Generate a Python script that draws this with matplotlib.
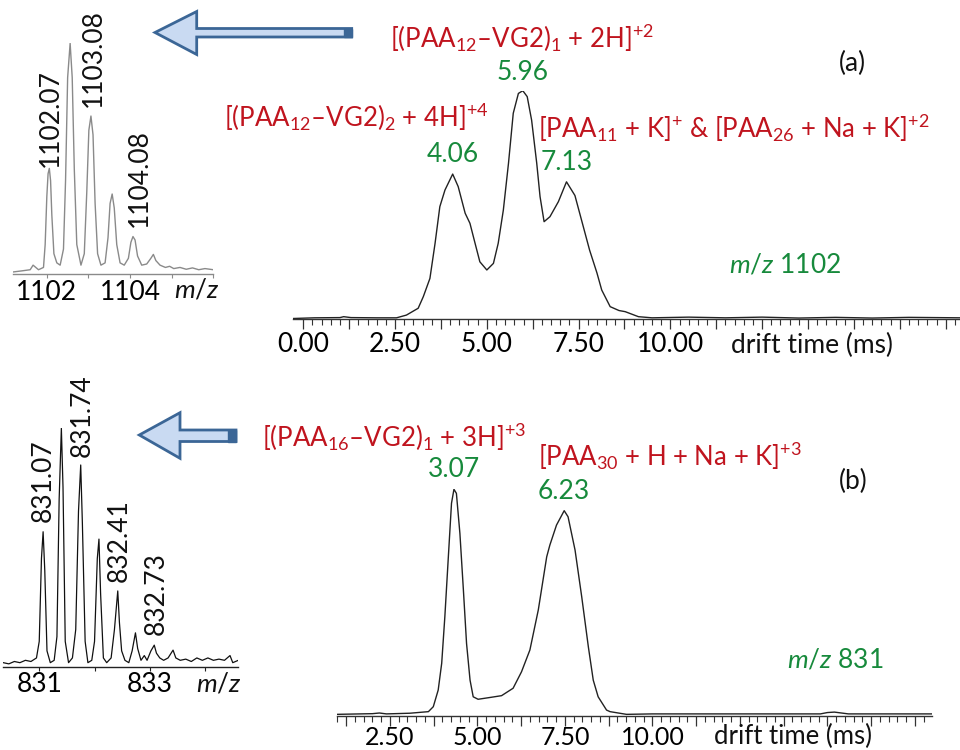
import matplotlib
matplotlib.use("Agg")
import matplotlib.pyplot as plt
from matplotlib.patches import Polygon, Rectangle
from matplotlib.ticker import FixedLocator, FuncFormatter
import numpy as np

plt.rcParams['font.family'] = ['Lato', 'DejaVu Sans']
plt.rcParams['mathtext.fontset'] = 'custom'
plt.rcParams['mathtext.rm'] = 'Lato'
plt.rcParams['mathtext.it'] = 'Lato:italic'
plt.rcParams['mathtext.default'] = 'regular'

RED = '#c0141e'
GREEN = '#178a3c'
FS = 19

# ---- data ----

# (a) arrival time distribution, m/z 1102
drift_a_ms = [-0.28, 0.3, 1.0, 1.1, 1.3, 2.0, 2.54, 2.81, 3.13, 3.27, 3.45, 3.59, 3.72, 3.86,
              4.07, 4.22, 4.41, 4.54, 4.68, 4.81, 5.00, 5.18, 5.31, 5.45, 5.59, 5.72, 5.86,
              5.98, 6.10, 6.22, 6.36, 6.45, 6.56, 6.72, 6.95, 7.17, 7.40, 7.60, 7.80, 8.00,
              8.13, 8.36, 8.60, 8.77, 9.13, 9.5, 10.5, 11.5, 12.5, 13.5, 14.5, 15.5, 16.5, 17.9]
drift_a_int = [0.0, 0.003, 0.004, 0.008, 0.004, 0.003, 0.003, 0.015, 0.045, 0.096, 0.176,
               0.330, 0.491, 0.564, 0.634, 0.579, 0.462, 0.418, 0.330, 0.249, 0.213, 0.242,
               0.330, 0.476, 0.681, 0.901, 0.988, 1.0, 0.974, 0.871, 0.681, 0.535, 0.425,
               0.447, 0.513, 0.600, 0.540, 0.420, 0.300, 0.200, 0.125, 0.052, 0.035, 0.030,
               0.008, 0.003, 0.006, 0.003, 0.006, 0.002, 0.005, 0.002, 0.005, 0.003]

# (b) arrival time distribution, m/z 831
drift_b_ms = [0.98, 2.0, 2.2, 2.4, 3.07, 3.60, 3.74, 3.88, 3.98, 4.07, 4.17, 4.26, 4.33, 4.40,
              4.50, 4.60, 4.69, 4.79, 4.88, 5.02, 5.36, 5.69, 6.02, 6.26, 6.50, 6.74, 6.98,
              7.07, 7.26, 7.48, 7.59, 7.79, 7.98, 8.17, 8.31, 8.45, 8.69, 8.79, 9.26, 10.0,
              12.0, 14.8, 15.0, 15.2, 15.4, 15.6, 18.0]
drift_b_int = [0.0, 0.003, 0.006, 0.002, 0.005, 0.012, 0.034, 0.108, 0.227, 0.434, 0.700,
               0.938, 1.0, 0.982, 0.804, 0.552, 0.315, 0.152, 0.078, 0.067, 0.075, 0.083,
               0.116, 0.189, 0.286, 0.464, 0.700, 0.752, 0.841, 0.905, 0.878, 0.730, 0.523,
               0.300, 0.152, 0.078, 0.019, 0.012, 0.0, 0.002, 0.002, 0.002, 0.008, 0.010,
               0.006, 0.002, 0.002]

# inset (a) mass spectrum
mz_a = [1101.18, 1101.40, 1101.60, 1101.67, 1101.80, 1101.92, 1101.96, 1102.00, 1102.03,
        1102.06, 1102.09, 1102.12, 1102.17, 1102.24, 1102.32, 1102.40, 1102.45, 1102.50,
        1102.56, 1102.61, 1102.66, 1102.72, 1102.82, 1102.90, 1102.96, 1103.01, 1103.06,
        1103.11, 1103.16, 1103.22, 1103.30, 1103.40, 1103.47, 1103.52, 1103.57, 1103.62,
        1103.68, 1103.76, 1103.86, 1103.96, 1104.02, 1104.07, 1104.12, 1104.18, 1104.28,
        1104.40, 1104.50, 1104.56, 1104.62, 1104.72, 1104.85, 1104.95, 1105.05, 1105.20,
        1105.35, 1105.50, 1105.65, 1105.80, 1106.0]
ms_int_a = [0.0, 0.005, 0.01, 0.03, 0.01, 0.02, 0.12, 0.33, 0.43, 0.453, 0.40, 0.25, 0.08,
            0.04, 0.03, 0.10, 0.40, 0.85, 1.0, 0.85, 0.45, 0.12, 0.03, 0.08, 0.35, 0.62,
            0.682, 0.60, 0.30, 0.08, 0.03, 0.04, 0.15, 0.30, 0.341, 0.28, 0.12, 0.04, 0.03,
            0.06, 0.13, 0.155, 0.14, 0.07, 0.03, 0.035, 0.06, 0.077, 0.05, 0.03, 0.02, 0.025,
            0.015, 0.02, 0.012, 0.018, 0.01, 0.015, 0.01]

# inset (b) mass spectrum
mz_b = [830.35, 830.45, 830.55, 830.65, 830.75, 830.85, 830.95, 831.00, 831.04, 831.07,
        831.10, 831.14, 831.20, 831.27, 831.32, 831.36, 831.40, 831.43, 831.47, 831.53,
        831.60, 831.66, 831.71, 831.75, 831.78, 831.83, 831.88, 831.95, 832.00, 832.05,
        832.08, 832.11, 832.16, 832.22, 832.30, 832.36, 832.42, 832.45, 832.49, 832.55,
        832.62, 832.68, 832.74, 832.78, 832.84, 832.90, 832.95, 833.02, 833.08, 833.12,
        833.18, 833.25, 833.33, 833.42, 833.47, 833.55, 833.65, 833.75, 833.85, 833.95,
        834.05, 834.15, 834.25, 834.35, 834.45, 834.50, 834.60]
ms_int_b = [0.01, 0.005, 0.015, 0.01, 0.02, 0.015, 0.03, 0.10, 0.45, 0.563, 0.40, 0.06, 0.01,
            0.02, 0.12, 0.70, 1.0, 0.75, 0.10, 0.01, 0.03, 0.15, 0.65, 0.845, 0.60, 0.10,
            0.01, 0.02, 0.10, 0.45, 0.532, 0.30, 0.03, 0.01, 0.03, 0.15, 0.313, 0.18, 0.06,
            0.02, 0.01, 0.06, 0.136, 0.07, 0.02, 0.04, 0.02, 0.06, 0.084, 0.05, 0.03, 0.02,
            0.03, 0.063, 0.03, 0.02, 0.025, 0.015, 0.03, 0.02, 0.03, 0.02, 0.025, 0.02, 0.04,
            0.01, 0.02]

# peak labels
peak_a_x = [4.07, 5.96, 7.17]
peak_a_y = [0.718, 1.082, 0.683]
peak_a_txt = ['4.06', '5.96', '7.13']
peak_b_x = [4.34, 7.48]
peak_b_y = [1.086, 0.99]
peak_b_txt = ['3.07', '6.23']

ins_a_x = [1102.08, 1103.12, 1104.22]
ins_a_y = [0.46, 0.723, 0.198]
ins_a_txt = ['1102.07', '1103.08', '1104.08']
ins_b_x = [831.07, 831.77, 832.44, 833.11]
ins_b_y = [0.605, 0.88, 0.352, 0.127]
ins_b_txt = ['831.07', '831.74', '832.41', '832.73']

drift_labels_a = [0, 2.5, 5, 7.5, 10]
drift_labels_b = [2.5, 5, 7.5, 10]
mz_labels_a = [1102, 1104]
mz_labels_b = [831, 833]

W, H = 960, 750
fig = plt.figure(figsize=(9.6, 7.5), dpi=100)


def fx(x):
    return x / W


def fy(y):
    return 1 - y / H


def axes_px(left, right, top, bottom):
    return fig.add_axes([fx(left), fy(bottom), (right - left) / W, (bottom - top) / H])


def strip(ax, col):
    for s in ['left', 'right', 'top']:
        ax.spines[s].set_visible(False)
    ax.spines['bottom'].set_color(col)
    ax.spines['bottom'].set_linewidth(1.0)
    ax.set_yticks([])
    ax.patch.set_alpha(0)


def drift_axis(ax, lo, hi, labels, fs, pad):
    strip(ax, '#333333')
    ax.xaxis.set_major_locator(FixedLocator(np.arange(0, 20, 1.25)))
    ax.xaxis.set_minor_locator(FixedLocator(np.arange(0, 20, 0.25)))
    ax.xaxis.set_major_formatter(FuncFormatter(
        lambda v, p: '%.2f' % v if any(abs(v - l) < 1e-6 for l in labels) else ''))
    ax.tick_params(axis='x', which='major', direction='out', length=7, width=0.9,
                   color='#333333', labelsize=fs, pad=pad)
    ax.tick_params(axis='x', which='minor', direction='out', length=4, width=0.8,
                   color='#333333')
    ax.set_xlim(lo, hi)


def mz_axis(ax, lo, hi, labels, col):
    strip(ax, col)
    ax.xaxis.set_major_locator(FixedLocator(np.arange(int(lo), int(hi) + 2, 1.0)))
    ax.xaxis.set_major_formatter(FuncFormatter(
        lambda v, p: '%d' % v if int(round(v)) in labels else ''))
    ax.tick_params(axis='x', which='major', direction='out', length=3, width=0.8,
                   color=col, labelsize=FS, pad=1)
    ax.set_xlim(lo, hi)


# ---- (a) drift time ----
ax1 = axes_px(293, 960, 90.7, 319.3)
ax1.plot(drift_a_ms, drift_a_int, color='#222222', lw=1.0)
drift_axis(ax1, -0.28, 17.89, drift_labels_a, FS, 2)
ax1.set_ylim(-0.0035, 1.0)
for x, y, t in zip(peak_a_x, peak_a_y, peak_a_txt):
    ax1.text(x, y, t, color=GREEN, fontsize=FS, ha='center', va='center', clip_on=False)

# ---- (b) drift time ----
ax2 = axes_px(336.7, 931.7, 489.3, 715.7)
ax2.plot(drift_b_ms, drift_b_int, color='#222222', lw=1.0)
drift_axis(ax2, 0.98, 17.98, drift_labels_b, 18, 0.5)
ax2.set_ylim(-0.006, 1.0)
for x, y, t in zip(peak_b_x, peak_b_y, peak_b_txt):
    ax2.text(x, y, t, color=GREEN, fontsize=FS, ha='center', va='center', clip_on=False)

# ---- inset spectra ----
ax3 = axes_px(12.7, 213.3, 43.3, 274.3)
ax3.plot(mz_a, ms_int_a, color='#8a8a8a', lw=1.0)
mz_axis(ax3, 1101.18, 1106.0, mz_labels_a, '#8a8a8a')
ax3.set_ylim(-0.01, 1.0)
for x, y, t in zip(ins_a_x, ins_a_y, ins_a_txt):
    ax3.text(x, y, t, rotation=90, fontsize=FS, ha='center', va='bottom', color='#111111',
             clip_on=False)

ax4 = axes_px(3.3, 238.3, 428.3, 666.7)
ax4.plot(mz_b, ms_int_b, color='#111111', lw=0.9)
mz_axis(ax4, 830.35, 834.60, mz_labels_b, '#222222')
ax4.set_ylim(-0.007, 1.0)
for x, y, t in zip(ins_b_x, ins_b_y, ins_b_txt):
    ax4.text(x, y, t, rotation=90, fontsize=FS, ha='center', va='bottom', color='#111111',
             clip_on=False)


# ---- free text ----
def ftext(x, y, s, **kw):
    fig.text(fx(x), fy(y), s, fontsize=kw.pop('fontsize', FS), ha=kw.pop('ha', 'center'),
             va=kw.pop('va', 'center'), **kw)


ftext(522, 38, r'[(PAA$_{12}$–VG2)$_1$ + 2H]$^{+2}$', color=RED, fontsize=18.5)
ftext(356, 117, r'[(PAA$_{12}$–VG2)$_2$ + 4H]$^{+4}$', color=RED, fontsize=18.5)
ftext(734, 128, r'[PAA$_{11}$ + K]$^{+}$ & [PAA$_{26}$ + Na + K]$^{+2}$', color=RED, fontsize=18.5)
ftext(852, 63, '(a)', color='#111111')
ftext(785, 265, r'$\mathit{m/z}$ 1102', color=GREEN)
ftext(812, 345, 'drift time (ms)', color='#111111')

ftext(394, 437, r'[(PAA$_{16}$–VG2)$_1$ + 3H]$^{+3}$', color=RED, fontsize=18.5)
ftext(670, 456, r'[PAA$_{30}$ + H + Na + K]$^{+3}$', color=RED, fontsize=18.5)
ftext(853, 481, '(b)', color='#111111')
ftext(835, 660, r'$\mathit{m/z}$ 831', color=GREEN)
ftext(793, 736, 'drift time (ms)', color='#111111', fontsize=18.5)

ftext(197, 290, r'$\mathit{m/z}$', color='#111111')
ftext(219, 684, r'$\mathit{m/z}$', color='#111111')


# ---- block arrows pointing at the insets ----
def block_arrow(tip, head_x, head_top, head_bot, sh_top, sh_bot, end_x):
    pts = [(tip[0], tip[1]), (head_x, head_top), (head_x, sh_top), (end_x, sh_top),
           (end_x, sh_bot), (head_x, sh_bot), (head_x, head_bot)]
    poly = Polygon([(fx(a), fy(b)) for a, b in pts], closed=True, transform=fig.transFigure,
                   facecolor='#c9daf2', edgecolor='#3b6696', lw=2.0, joinstyle='miter')
    fig.patches.append(poly)
    cap = Rectangle((fx(end_x - 8), fy(sh_bot)), 8 / W, (sh_bot - sh_top) / H,
                    transform=fig.transFigure, facecolor='#3b6696', edgecolor='#3b6696', lw=1)
    fig.patches.append(cap)


block_arrow((155, 32.5), 196.7, 11.5, 54.5, 28.5, 37.0, 351.7)
block_arrow((139.3, 435), 180, 412.7, 458.3, 430, 441.5, 236)

fig.savefig('out.png', dpi=100)
